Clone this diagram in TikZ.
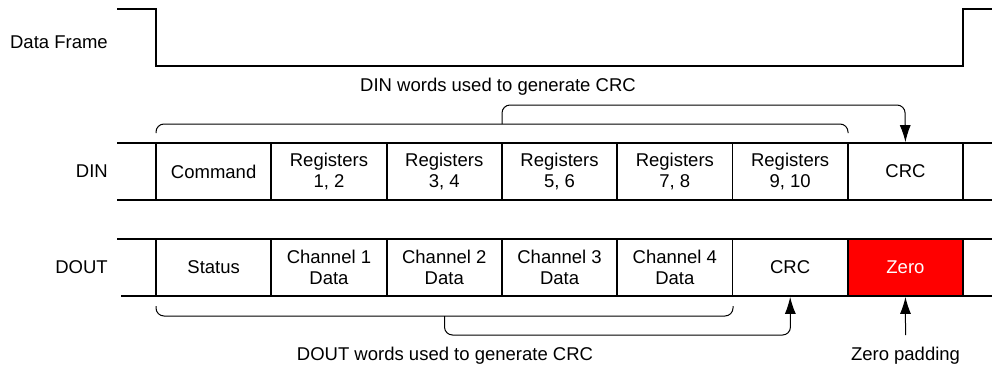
\documentclass[tikz,border=0pt]{standalone}
\usepackage{fontspec}
\setmainfont{Liberation Sans}
\usetikzlibrary{arrows.meta}
\begin{document}
\begin{tikzpicture}[x=1pt,y=-1pt,
  every node/.style={font=\fontsize{18.5}{20.5}\selectfont},
  cell/.style={draw,line width=1.8pt,minimum width=115.3pt,minimum height=57pt,inner sep=0pt,outer sep=0pt,anchor=north west,align=center},
  wave/.style={line width=1.8pt,line cap=rect},
  brace/.style={line width=1pt,rounded corners=8pt},
  arr/.style={-{Latex[length=17pt,width=11pt]},line width=1pt,shorten >=0.9pt},
  lbl/.style={anchor=east,inner sep=0pt}]
\useasboundingbox (0,0) rectangle (992,370);
% Data frame
\draw[wave,line cap=butt] (117,9) -- (156,9) -- (156,66) -- (963,66) -- (963,9) -- (992,9);
\node[lbl] (df) at (108,42) {Data Frame};
% DIN row
\node[lbl] (dinl) at (108,171) {DIN};
\node[cell] (din1) at (156,143) {Command};
\node[cell] (din2) at (271.3,143) {Registers\\1, 2};
\node[cell] (din3) at (386.6,143) {Registers\\3, 4};
\node[cell] (din4) at (501.9,143) {Registers\\5, 6};
\node[cell] (din5) at (617.2,143) {Registers\\7, 8};
\node[cell] (din6) at (732.5,143) {Registers\\9, 10};
\node[cell] (din7) at (847.8,143) {CRC};
\draw[wave] (118,143) -- (din1.north west);
\draw[wave] (118,200) -- (din1.south west);
\draw[wave] (din7.north east) -- (992,143);
\draw[wave] (din7.south east) -- (992,200);
% DOUT row
\node[lbl] (doutl) at (108,267) {DOUT};
\node[cell] (dout1) at (156,239) {Status};
\node[cell] (dout2) at (271.3,239) {Channel 1\\Data};
\node[cell] (dout3) at (386.6,239) {Channel 2\\Data};
\node[cell] (dout4) at (501.9,239) {Channel 3\\Data};
\node[cell] (dout5) at (617.2,239) {Channel 4\\Data};
\node[cell] (dout6) at (732.5,239) {CRC};
\node[cell,fill=red,text=white] (dout7) at (847.8,239) {Zero};
\draw[wave] (118,239) -- (dout1.north west);
\draw[wave] (122,296) -- (dout1.south west);
\draw[wave] (dout7.north east) -- (992,239);
\draw[wave] (dout7.south east) -- (992,296);
% DIN brace
\coordinate (tbl) at (156,133);
\coordinate (tbr) at (848,133);
\coordinate (tbc) at (502,124);
\draw[brace] (tbl) |- (tbr |- tbc) -- (tbr);
\draw[brace,arr] (tbc) |- (905,105) -- (din7.north);
\node (dintxt) at (498,87) {DIN words used to generate CRC};
% DOUT brace
\coordinate (bbl) at (156,306);
\coordinate (bbr) at (733,306);
\coordinate (bbc) at (444.5,316);
\draw[brace] (bbl) |- (bbr |- bbc) -- (bbr);
\draw[brace,arr] (bbc) |- (790.5,335) -- (dout6.south);
\node (douttxt) at (445,356) {DOUT words used to generate CRC};
% Zero padding
\coordinate (zp) at (905.5,335);
\draw[arr] (zp) -- (dout7.south);
\node (zptxt) at (905.5,356) {Zero padding};
\end{tikzpicture}
\end{document}
